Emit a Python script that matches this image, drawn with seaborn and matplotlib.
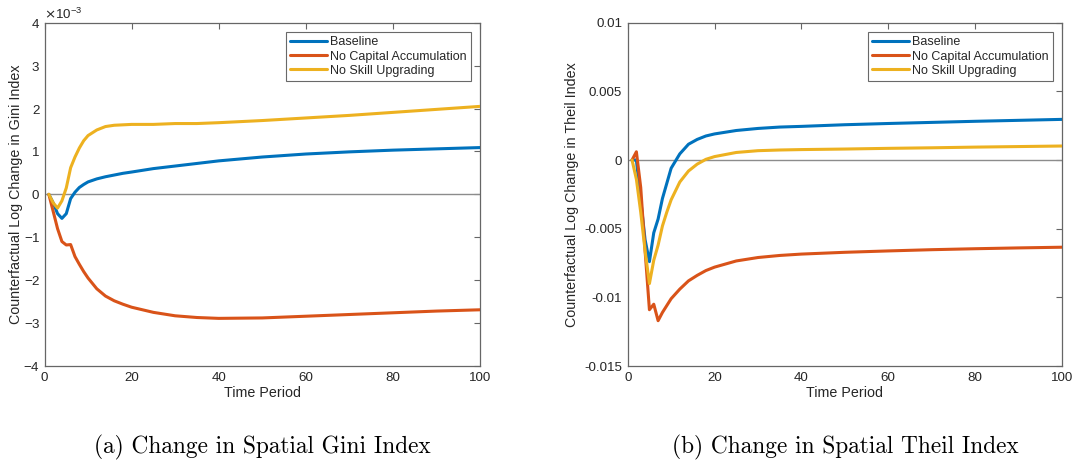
import matplotlib
matplotlib.use("Agg")
import matplotlib.pyplot as plt
import seaborn as sns
import pandas as pd
import numpy as np

# ---- data ----
periods = [1, 2, 3, 4, 5, 6, 7, 8, 9, 10, 12, 14, 16, 18, 20, 25, 30, 35, 40, 50, 60, 70, 80, 90, 100]
series_names = ["Baseline", "No Capital Accumulation", "No Skill Upgrading"]

gini_baseline = [0, -0.2e-3, -0.45e-3, -0.56e-3, -0.45e-3, -0.1e-3, 0.05e-3, 0.16e-3, 0.23e-3, 0.29e-3,
                 0.36e-3, 0.41e-3, 0.45e-3, 0.49e-3, 0.52e-3, 0.60e-3, 0.66e-3, 0.72e-3, 0.78e-3, 0.87e-3,
                 0.94e-3, 0.99e-3, 1.03e-3, 1.06e-3, 1.09e-3]
gini_nocap = [0, -0.4e-3, -0.8e-3, -1.1e-3, -1.18e-3, -1.17e-3, -1.45e-3, -1.63e-3, -1.8e-3, -1.95e-3,
              -2.2e-3, -2.37e-3, -2.48e-3, -2.56e-3, -2.63e-3, -2.75e-3, -2.83e-3, -2.87e-3, -2.89e-3, -2.88e-3,
              -2.84e-3, -2.80e-3, -2.76e-3, -2.72e-3, -2.69e-3]
gini_noskill = [0, -0.2e-3, -0.32e-3, -0.15e-3, 0.15e-3, 0.62e-3, 0.87e-3, 1.08e-3, 1.25e-3, 1.37e-3,
                1.50e-3, 1.58e-3, 1.61e-3, 1.62e-3, 1.63e-3, 1.63e-3, 1.65e-3, 1.65e-3, 1.67e-3, 1.72e-3,
                1.78e-3, 1.84e-3, 1.91e-3, 1.98e-3, 2.05e-3]

theil_baseline = [0, 0, -2.9e-3, -5.8e-3, -7.4e-3, -5.3e-3, -4.3e-3, -2.8e-3, -1.7e-3, -0.6e-3,
                  0.45e-3, 1.15e-3, 1.5e-3, 1.75e-3, 1.9e-3, 2.15e-3, 2.3e-3, 2.4e-3, 2.45e-3, 2.57e-3,
                  2.66e-3, 2.74e-3, 2.82e-3, 2.89e-3, 2.96e-3]
theil_nocap = [0, 0.6e-3, -2.0e-3, -6.6e-3, -10.9e-3, -10.5e-3, -11.7e-3, -11.1e-3, -10.6e-3, -10.1e-3,
               -9.4e-3, -8.8e-3, -8.4e-3, -8.05e-3, -7.8e-3, -7.35e-3, -7.1e-3, -6.95e-3, -6.85e-3, -6.72e-3,
               -6.62e-3, -6.53e-3, -6.46e-3, -6.40e-3, -6.35e-3]
theil_noskill = [0, -1.4e-3, -3.8e-3, -6.6e-3, -9.0e-3, -7.3e-3, -6.2e-3, -4.8e-3, -3.8e-3, -2.9e-3,
                 -1.6e-3, -0.8e-3, -0.3e-3, 0.05e-3, 0.25e-3, 0.55e-3, 0.68e-3, 0.73e-3, 0.76e-3, 0.80e-3,
                 0.85e-3, 0.89e-3, 0.94e-3, 0.98e-3, 1.02e-3]

x_ticks = [0, 20, 40, 60, 80, 100]
gini_ticks = [-4e-3, -3e-3, -2e-3, -1e-3, 0, 1e-3, 2e-3, 3e-3, 4e-3]
theil_ticks = [-0.015, -0.01, -0.005, 0, 0.005, 0.01]
theil_tick_labels = ["-0.015", "-0.01", "-0.005", "0", "0.005", "0.01"]

colors = ["#0072BD", "#D95319", "#EDB120"]

def long_df(vals):
    rows = []
    for name, v in zip(series_names, vals):
        for t, y in zip(periods, v):
            rows.append({"Time Period": t, "value": y, "series": name})
    return pd.DataFrame(rows)

gini_df = long_df([gini_baseline, gini_nocap, gini_noskill])
theil_df = long_df([theil_baseline, theil_nocap, theil_noskill])

sns.set_theme(style="white")
plt.rcParams["font.family"] = ["Liberation Sans", "DejaVu Sans"]
plt.rcParams["axes.unicode_minus"] = False

fig = plt.figure(figsize=(10.78, 4.65), dpi=100)
W, H = 1078, 465
ax1 = fig.add_axes([44.5 / W, 1 - 366 / H, (480 - 44.5) / W, (366 - 22.7) / H])
ax2 = fig.add_axes([627.7 / W, 1 - 366 / H, (1062 - 627.7) / W, (366 - 22.7) / H])

edge = "#666666"
for ax, df, ylab in [(ax1, gini_df, "Counterfactual Log Change in Gini Index"),
                     (ax2, theil_df, "Counterfactual Log Change in Theil Index")]:
    ax.axhline(0, color="#8c8c8c", lw=1.0, zorder=1)
    sns.lineplot(data=df, x="Time Period", y="value", hue="series", palette=colors,
                 hue_order=series_names, ax=ax, lw=2.2, legend=True, zorder=3)
    ax.set_xlim(0, 100)
    ax.set_xticks(x_ticks)
    ax.set_xlabel("Time Period", fontsize=10.3, color="#262626", labelpad=2)
    ax.set_ylabel(ylab, fontsize=10.3, color="#262626")
    for s in ax.spines.values():
        s.set_color(edge)
        s.set_linewidth(0.9)
    ax.tick_params(direction="in", length=4, width=0.8, color=edge, top=True, right=True,
                   labelsize=9.6, labelcolor="#262626", pad=4)
    leg = ax.legend(loc="upper right", fontsize=9.0, frameon=True, fancybox=False,
                    handlelength=2.9, handletextpad=0.25, labelspacing=0.17,
                    borderpad=0.35, borderaxespad=0.75)
    leg.get_frame().set_edgecolor("#444444")
    leg.get_frame().set_linewidth(0.8)
    for ln in leg.get_lines():
        ln.set_linewidth(2.2)

ax1.set_ylim(-4e-3, 4e-3)
ax1.set_yticks(gini_ticks)
ax1.ticklabel_format(axis="y", style="sci", scilimits=(-3, -3), useMathText=True)
ax1.yaxis.get_offset_text().set_fontsize(9.6)
ax1.yaxis.get_offset_text().set_color("#262626")
ax1.tick_params(axis="y", pad=3)
ax1.yaxis.set_label_coords((23 - 44.5) / (480 - 44.5), 0.5)

ax2.set_ylim(-0.015, 0.01)
ax2.set_yticks(theil_ticks)
ax2.set_yticklabels(theil_tick_labels)
ax2.yaxis.set_label_coords((579 - 627.7) / (1062 - 627.7), 0.5)

fig.text((44.5 + 480) / 2 / W, 1 - 447 / H, "(a) Change in Spatial Gini Index",
         ha="center", va="center", fontsize=16.8, family="cmr10", color="black")
fig.text((627.7 + 1062) / 2 / W, 1 - 447 / H, "(b) Change in Spatial Theil Index",
         ha="center", va="center", fontsize=16.8, family="cmr10", color="black")

fig.savefig("out.png", dpi=100, facecolor="white")
